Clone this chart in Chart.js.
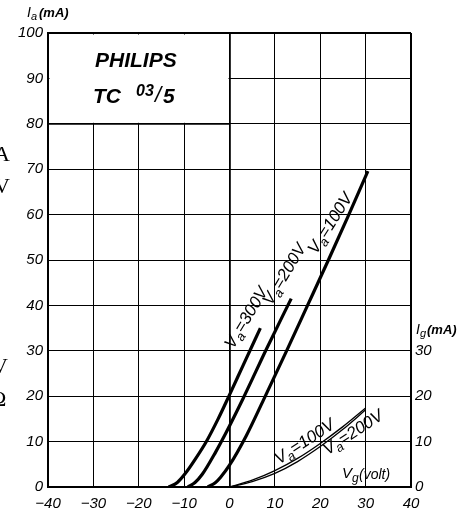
<!DOCTYPE html>
<html>
<head>
<meta charset="utf-8">
<script src="https://cdn.jsdelivr.net/npm/chart.js@4.4.1/dist/chart.umd.min.js"></script>
<style>
  html, body { margin: 0; padding: 0; background: #fff; }
  #wrap { width: 473px; height: 515px; }
</style>
</head>
<body>
<div id="wrap"><canvas id="tubeChart" width="473" height="515"></canvas></div>
<script>
// Philips TC 03/5 - anode and grid current against grid voltage

const vgTicks = [-40, -30, -20, -10, 0, 10, 20, 30, 40];
const iaTicks = [0, 10, 20, 30, 40, 50, 60, 70, 80, 90, 100];
const igTicks = [0, 10, 20, 30];

// anode current Ia (mA)
const vg300 = [-13.4, -11.5, -9.8, -7.5, -5, -2.5, 0, 3, 6.8];
const ia300 = [0, 1.0, 2.9, 6.2, 10.2, 15, 20.3, 26.8, 35];
const vg200 = [-9.2, -7.6, -6, -3, -1, 3, 8.2, 13.6];
const ia200 = [0, 1.0, 2.8, 7.8, 11.5, 19.5, 30.5, 41.5];
const vg100 = [-4.8, -3.2, -2, 0, 3.7, 7.5, 12.4, 17.2, 21.8, 26.3, 30.5];
const ia100 = [0, 0.9, 2.1, 4.8, 11.3, 19.2, 29.6, 40, 50, 60, 69.6];

// grid current Ig (mA)
const vgGrid = [0, 5, 10, 15, 20, 25, 30];
const igVa100 = [0, 1.5, 3.6, 6.3, 9.6, 13.3, 17.4];
const igVa200 = [0, 1.2, 3.0, 5.6, 8.9, 12.7, 17.0];

const FONT = '"Liberation Sans", Arial, sans-serif';

function pts(xs, ys) {
  return xs.map((x, i) => ({ x: x, y: ys[i] }));
}

function curve(xs, ys, width) {
  return {
    data: pts(xs, ys),
    showLine: true,
    borderColor: '#000',
    borderWidth: width,
    pointRadius: 0,
    cubicInterpolationMode: 'monotone',
    yAxisID: 'y'
  };
}

// text with a subscript letter, e.g. V + a + "=300V"
function subText(ctx, x, y, angle, head, sub, rest, size) {
  const big = 'italic ' + size + 'px ' + FONT;
  const small = 'italic ' + Math.round(size * 0.75) + 'px ' + FONT;
  ctx.save();
  ctx.translate(x, y);
  ctx.rotate(angle);
  ctx.textBaseline = 'middle';
  ctx.textAlign = 'left';
  ctx.font = big;
  const wH = ctx.measureText(head).width;
  const wR = ctx.measureText(rest).width;
  ctx.font = small;
  const wS = ctx.measureText(sub).width;
  let cx = -(wH + wS + wR) / 2;
  ctx.font = big;
  ctx.fillText(head, cx, 0);
  cx += wH;
  ctx.font = small;
  ctx.fillText(sub, cx, size * 0.3);
  cx += wS;
  ctx.font = big;
  ctx.fillText(rest, cx, 0);
  ctx.restore();
}

const sheetPlugin = {
  id: 'sheet',
  beforeDraw(chart) {
    const c = chart.ctx;
    c.save();
    c.fillStyle = '#fff';
    c.fillRect(0, 0, chart.width, chart.height);
    c.restore();
  },
  beforeDatasetsDraw(chart) {
    // title box: no grid inside the corner -40..0 / 80..100
    const c = chart.ctx, sx = chart.scales.x, sy = chart.scales.y;
    const x0 = sx.getPixelForValue(-40), x1 = sx.getPixelForValue(0);
    const y0 = sy.getPixelForValue(100), y1 = sy.getPixelForValue(80);
    c.save();
    c.fillStyle = '#fff';
    c.fillRect(x0 + 1.5, y0 + 1.5, x1 - x0 - 2.5, y1 - y0 - 2.5);
    c.strokeStyle = '#000';
    c.lineWidth = 1.8;
    c.beginPath();
    c.moveTo(x0, y1);
    c.lineTo(x1, y1);
    c.stroke();
    c.fillStyle = '#000';
    c.textAlign = 'left';
    c.textBaseline = 'alphabetic';
    c.font = 'italic bold 21px ' + FONT;
    c.fillText('PHILIPS', 95, 67);
    c.fillText('TC', 93, 103);
    c.font = 'italic bold 16px ' + FONT;
    c.fillText('03', 136, 96);
    c.font = 'italic 22px ' + FONT;
    c.fillText('/', 155, 102);
    c.font = 'italic bold 21px ' + FONT;
    c.fillText('5', 163, 103);
    c.restore();
  },
  afterDatasetsDraw(chart) {
    const c = chart.ctx, sx = chart.scales.x, sy = chart.scales.y;
    const px = v => sx.getPixelForValue(v), py = v => sy.getPixelForValue(v);
    c.save();
    c.fillStyle = '#000';
    subText(c, px(3.8), py(37.2), -1.03, 'V', 'a', '=300V', 17);
    subText(c, px(12.2), py(46.8), -1.03, 'V', 'a', '=200V', 17);
    subText(c, px(22.3), py(58.0), -1.0, 'V', 'a', '=100V', 17);
    subText(c, px(16.6), py(9.9), -0.58, 'V', 'a', '=100V', 17);
    subText(c, px(27.3), py(11.9), -0.58, 'V', 'a', '=200V', 17);

    // axis titles
    c.textBaseline = 'middle';
    c.textAlign = 'left';
    c.font = 'italic 14px ' + FONT;
    c.fillText('I', 27, 13);
    c.font = 'italic 11px ' + FONT;
    c.fillText('a', 31, 17);
    c.font = 'italic bold 13px ' + FONT;
    c.fillText('(mA)', 39, 13);

    c.font = 'italic 14px ' + FONT;
    c.fillText('I', 416, 330);
    c.font = 'italic 11px ' + FONT;
    c.fillText('g', 420, 334);
    c.font = 'italic bold 13px ' + FONT;
    c.fillText('(mA)', 427, 330);

    c.font = 'italic 15px ' + FONT;
    c.fillText('V', 342, 474);
    c.font = 'italic 12px ' + FONT;
    c.fillText('g', 352, 479);
    c.font = 'italic 14px ' + FONT;
    c.fillText('(volt)', 359, 475);

    // edge fragments from the scanned page
    c.font = '22px "Liberation Serif", serif';
    c.fillText('A', -6, 155);
    c.fillText('V', -6, 187);
    c.fillText('V', -8, 367);
    c.fillText('\u03A9', -10, 400);
    c.restore();
  }
};

const xEdge = v => (v === -40 || v === 40) ? 2 : (v === 0 ? 1.8 : 1);
const yEdge = v => (v === 0 || v === 100) ? 2 : 1;

new Chart(document.getElementById('tubeChart'), {
  type: 'scatter',
  data: {
    datasets: [
      curve(vg300, ia300, 3.2),
      curve(vg200, ia200, 3.2),
      curve(vg100, ia100, 3.2),
      curve(vgGrid, igVa100, 1.3),
      curve(vgGrid, igVa200, 1.3)
    ]
  },
  options: {
    responsive: false,
    animation: false,
    layout: { padding: { top: 33, left: 0, right: 0, bottom: 0 } },
    plugins: { legend: { display: false }, tooltip: { enabled: false } },
    scales: {
      x: {
        type: 'linear',
        min: -40,
        max: 40,
        afterBuildTicks: s => { s.ticks = vgTicks.map(v => ({ value: v })); },
        afterFit: s => { s.height = 28; },
        grid: { color: '#000', lineWidth: ctx => xEdge(ctx.tick && ctx.tick.value), drawTicks: false },
        border: { color: '#000', width: 2 },
        ticks: {
          color: '#000',
          padding: 8,
          font: { family: FONT, size: 15, style: 'italic' },
          callback: v => v < 0 ? '\u2212' + Math.abs(v) : String(v)
        }
      },
      y: {
        type: 'linear',
        position: 'left',
        min: 0,
        max: 100,
        afterBuildTicks: s => { s.ticks = iaTicks.map(v => ({ value: v })); },
        afterFit: s => { s.width = 48; },
        grid: { color: '#000', lineWidth: ctx => yEdge(ctx.tick && ctx.tick.value), drawTicks: false },
        border: { color: '#000', width: 2 },
        ticks: {
          color: '#000',
          padding: 5,
          font: { family: FONT, size: 15, style: 'italic' }
        }
      },
      y2: {
        type: 'linear',
        position: 'right',
        min: 0,
        max: 100,
        afterBuildTicks: s => { s.ticks = igTicks.map(v => ({ value: v })); },
        afterFit: s => { s.width = 62; },
        grid: { display: false, drawTicks: false },
        border: { display: false },
        ticks: {
          color: '#000',
          padding: 4,
          font: { family: FONT, size: 15, style: 'italic' }
        }
      }
    }
  },
  plugins: [sheetPlugin]
});
</script>
</body>
</html>
